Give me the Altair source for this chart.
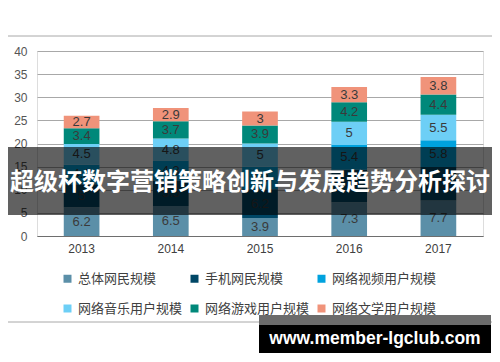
import altair as alt
import pandas as pd

years = ["2013", "2014", "2015", "2016", "2017"]
series = ["总体网民规模", "手机网民规模", "网络视频用户规模", "网络音乐用户规模", "网络游戏用户规模", "网络文学用户规模"]
colors = ["#5b8fa8", "#004766", "#00a2de", "#6dcff6", "#00887a", "#f0937a"]

total_users = [6.2, 6.5, 3.9, 7.3, 7.7]
mobile_users = [5, 5.5, 6.2, 7.0, 7.2]
video_users = [4.2, 4.3, 4.9, 5.4, 5.8]
music_users = [4.5, 4.8, 5, 5, 5.5]
game_users = [3.4, 3.7, 3.9, 4.2, 4.4]
literature_users = [2.7, 2.9, 3, 3.3, 3.8]
y_ticks = [0, 5, 10, 15, 20, 25, 30, 35, 40]

title_text = "超级杯数字营销策略创新与发展趋势分析探讨"
watermark_text = "www.member-lgclub.com"

all_series = [total_users, mobile_users, video_users, music_users, game_users, literature_users]
rows = []
for si, (name, vals) in enumerate(zip(series, all_series)):
    for yr, v in zip(years, vals):
        rows.append({"year": yr, "series": name, "idx": si, "value": v})
df = pd.DataFrame(rows)

W, H = 446, 185
OX, OY = 37, 51  # plot origin on page
cjk = "Noto Sans CJK SC"
latin = "Liberation Sans"

base = alt.Chart(df).transform_stack(
    stack="value", groupby=["year"], as_=["y0", "y1"], sort=[alt.SortField("idx", order="ascending")]
).transform_calculate(mid="(datum.y0 + datum.y1) / 2")

yaxis = alt.Axis(values=y_ticks, ticks=False, domain=False, gridColor="#a8a8a8", labelOverlap=False,
                 labelFont=latin, labelFontSize=12, labelColor="#555555", labelPadding=10)
yscale = alt.Scale(domain=[0, 40], nice=False)

xenc = alt.X("year:N", title=None, sort=years,
             scale=alt.Scale(paddingInner=0.6, paddingOuter=0.3),
             axis=alt.Axis(labelAngle=0, ticks=False, domainColor="#6e6e6e", labelFont=latin,
                           labelFontSize=12, labelColor="#404040", labelPadding=7))

bars = base.mark_bar().encode(
    x=xenc,
    y=alt.Y("y0:Q", title=None, scale=yscale, axis=yaxis),
    y2="y1:Q",
    color=alt.Color("series:N", sort=series, scale=alt.Scale(domain=series, range=colors),
                    legend=alt.Legend(title=None, orient="none", legendX=24, legendY=221,
                                      direction="horizontal", columns=3, symbolType="square",
                                      symbolSize=64, symbolStrokeWidth=0, labelFont=cjk,
                                      labelFontSize=13, labelColor="#404040", columnPadding=5,
                                      rowPadding=16, gridAlign="all", labelOffset=4)),
)

labels = base.mark_text(font=latin, fontSize=13, color="#3a3a3a", baseline="middle").encode(
    x=alt.X("year:N", sort=years),
    y=alt.Y("mid:Q", title=None, scale=yscale, axis=yaxis),
    text=alt.Text("value:Q"),
)

one = pd.DataFrame({"k": [0]})

border = alt.Chart(one).mark_rect(fillOpacity=0, stroke="#a8a8a8", strokeWidth=1).encode(
    x=alt.value(4 - OX), x2=alt.value(496 - OX), y=alt.value(36 - OY), y2=alt.value(322 - OY))

band = alt.Chart(one).mark_rect(color="#000000", opacity=0.62).encode(
    x=alt.value(-OX), x2=alt.value(500 - OX), y=alt.value(147 - OY), y2=alt.value(215 - OY))

title = alt.Chart(one).mark_text(text=title_text, font=cjk, fontSize=24, fontWeight="bold",
                                 color="#ffffff", align="center", baseline="middle").encode(
    x=alt.value(250 - OX), y=alt.value(183 - OY))

wm_gray = alt.Chart(one).mark_rect(color="#6b6b6b").encode(
    x=alt.value(259 - OX), x2=alt.value(491 - OX), y=alt.value(315 - OY), y2=alt.value(325 - OY))
wm_black = alt.Chart(one).mark_rect(color="#000000").encode(
    x=alt.value(259 - OX), x2=alt.value(491 - OX), y=alt.value(325 - OY), y2=alt.value(353 - OY))
wm_text = alt.Chart(one).mark_text(text=watermark_text, font=latin, fontSize=17.5, fontWeight="bold",
                                   color="#ffffff", align="center", baseline="middle").encode(
    x=alt.value(375 - OX), y=alt.value(339 - OY))

chart = alt.layer(border, bars, labels, band, title, wm_gray, wm_black, wm_text).properties(
    width=W, height=H,
    autosize=alt.AutoSizeParams(type="none"),
    padding={"left": OX - 8, "top": OY - 8, "right": 484 - (OX - 8) - W, "bottom": 346 - (OY - 8) - H},
).configure_view(stroke=None).configure(background="#ffffff")

chart.save("out.html", embed_options={"renderer": "svg", "actions": False})
